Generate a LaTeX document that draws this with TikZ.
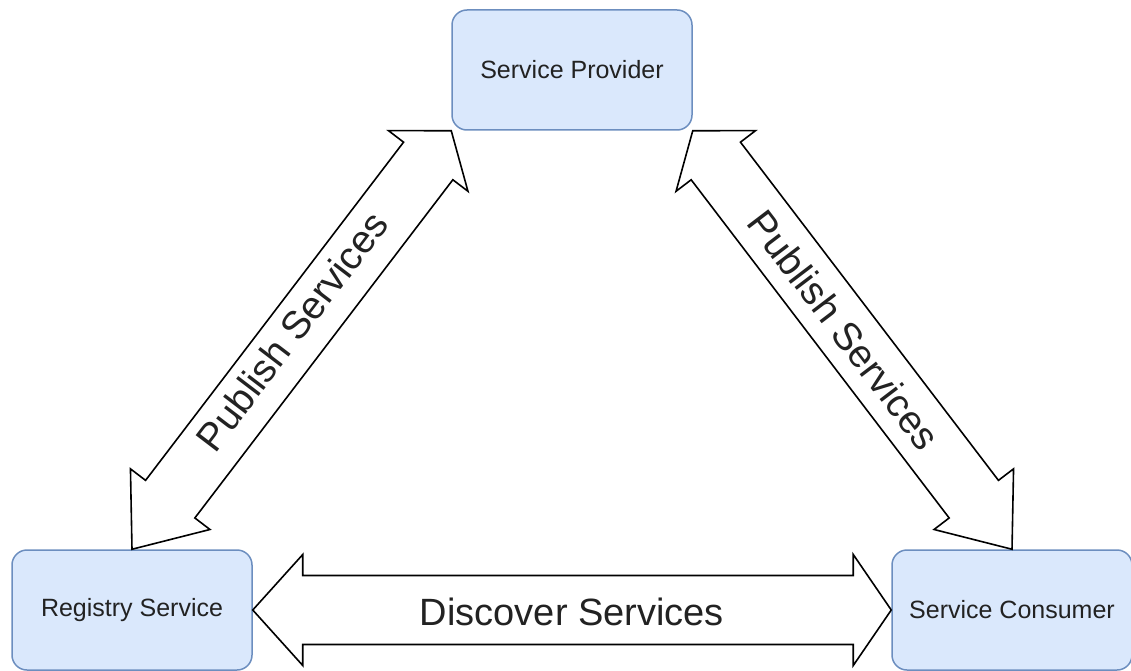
\documentclass[tikz,border=0pt]{standalone}
\usepackage{fontspec}
\setmainfont{Liberation Sans}
\usetikzlibrary{calc}

\definecolor{boxfill}{HTML}{DAE8FC}
\definecolor{boxline}{HTML}{6C8EBF}
\definecolor{ink}{HTML}{222222}

\tikzset{
  svc/.style={draw=boxline, fill=boxfill, line width=1.5pt, rounded corners=15pt,
    minimum width=240pt, minimum height=120pt, inner sep=0pt,
    font=\fontsize{25}{30}\selectfont, text=ink},
  fat/.style={draw=black, fill=white, line width=1.6pt, line join=miter},
  fatlabel/.style={font=\fontsize{39}{44}\selectfont, text=ink, inner sep=0pt},
}

% Outlined double-headed block arrow between two anchors:
% #1 start, #2 end, #3 shaft half width, #4 head half width,
% #5 start head length, #6 end head length, #7 label, #8 label offset
\newcommand\fatarrow[8]{%
  \coordinate (fa1) at ($(#1)!#5!(#2)$);
  \coordinate (fa2) at ($(#2)!#6!(#1)$);
  \draw[fat] (#1)
    -- ($(fa1)!#4!90:(#2)$) -- ($(fa1)!#3!90:(#2)$)
    -- ($(fa2)!#3!-90:(#1)$) -- ($(fa2)!#4!-90:(#1)$)
    -- (#2)
    -- ($(fa2)!#4!90:(#1)$) -- ($(fa2)!#3!90:(#1)$)
    -- ($(fa1)!#3!-90:(#2)$) -- ($(fa1)!#4!-90:(#2)$)
    -- cycle;
  \path ($(#1)+#8$) -- node[fatlabel, sloped] {#7} ($(#2)+#8$);
}

\begin{document}
\begin{tikzpicture}[x=1pt, y=-1pt]
  \useasboundingbox (0,0) rectangle (1131,671);

  \node[svc] (prov) at (572,70)   {Service Provider};
  \node[svc] (reg)  at (132,610)  {Registry Service};
  \node[svc] (cons) at (1012,610) {Service Consumer};

  \fatarrow{reg.north}{prov.south west}{31pt}{50pt}{63pt}{38pt}{Publish Services}{(0,-9)}
  \fatarrow{prov.south east}{cons.north}{31pt}{50pt}{38pt}{63pt}{Publish Services}{(-8,-10)}
  \fatarrow{reg.east}{cons.west}{34.5pt}{55.5pt}{50pt}{38pt}{\fontsize{38}{44}\selectfont Discover Services}{(0,2)}
\end{tikzpicture}
\end{document}
